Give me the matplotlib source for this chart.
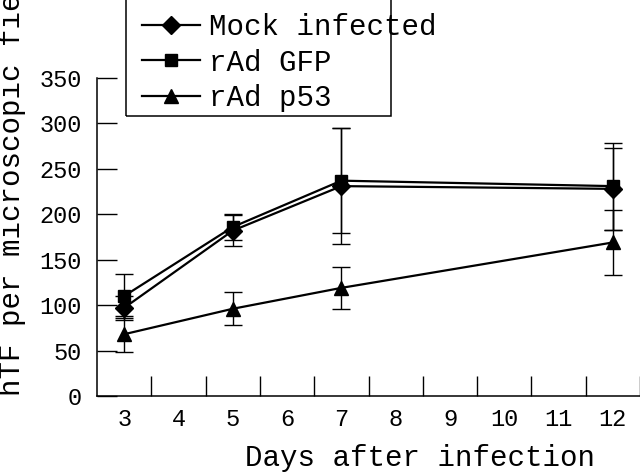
import matplotlib
matplotlib.use('Agg')
import matplotlib.pyplot as plt
from matplotlib.lines import Line2D
from matplotlib.patches import Rectangle

# Datos
dias = ['3', '4', '5', '6', '7', '8', '9', '10', '11', '12']
dias_medidos = ['3', '5', '7', '12']

mock = [97, 182, 231, 228]
mock_err = [13, 17, 64, 45]
gfp = [110, 186, 237, 231]
gfp_err = [24, 14, 58, 48]
p53 = [68, 96, 119, 169]
p53_err = [20, 18, 23, 36]

yticks = [0, 50, 100, 150, 200, 250, 300, 350]

fuente = 'Liberation Mono'

fig = plt.figure(figsize=(6.4, 4.72), dpi=100)
ax = fig.add_axes([97 / 640, 1 - 396 / 472, (640 - 97) / 640, (396 - 78) / 472])

xs = [dias.index(d) for d in dias_medidos]

series = [
    (mock, mock_err, 'D', 9, 'Mock infected'),
    (gfp, gfp_err, 's', 9, 'rAd GFP'),
    (p53, p53_err, '^', 10, 'rAd p53'),
]
handles = []
for vals, errs, mk, ms, lab in series:
    ax.errorbar(xs, vals, yerr=errs, color='black', marker=mk, markersize=ms,
                linewidth=1.6, elinewidth=1.0, capsize=6.5, capthick=1.0,
                clip_on=False)
    handles.append(Line2D([], [], color='black', marker=mk, markersize=ms,
                          linewidth=1.6, label=lab))

ax.set_xlim(-0.5, 9.5)
ax.set_ylim(0, 350)

for s in ['top', 'right']:
    ax.spines[s].set_visible(False)
for s in ['left', 'bottom']:
    ax.spines[s].set_linewidth(1.1)

ax.set_xticks(range(len(dias)))
ax.set_xticklabels(dias, fontfamily=fuente, fontsize=17)
ax.set_xticks([i + 0.5 for i in range(len(dias))], minor=True)
ax.tick_params(axis='x', which='major', length=0, pad=9)
ax.tick_params(axis='x', which='minor', direction='in', length=14.4, width=1.0)

ax.set_yticks(yticks)
ax.set_yticklabels([str(v) for v in yticks], fontfamily=fuente, fontsize=17)
ax.tick_params(axis='y', direction='in', length=14.4, width=1.0, pad=11)

fig.text(420 / 640, 1 - 466 / 472, 'Days after infection', ha='center',
         va='baseline', fontfamily=fuente, fontsize=21)
fig.text(12 / 640, 1 - 396 / 472, 'hTF per microscopic fields', rotation=90,
         ha='center', va='bottom', fontfamily=fuente, fontsize=21)

# Leyenda sin marco; el marco se dibuja aparte (sale por arriba de la figura)
leg = ax.legend(handles=handles, loc='lower left',
                bbox_to_anchor=(129 / 640, 1 - 125 / 472),
                bbox_transform=fig.transFigure, prop={'family': fuente, 'size': 21},
                frameon=False, handlelength=2.0, handletextpad=0.3,
                labelspacing=0.25, borderpad=0.45, borderaxespad=0)
fig.patches.append(Rectangle((126 / 640, 1 - 116 / 472), (391 - 126) / 640, 0.4,
                             transform=fig.transFigure, fill=False,
                             edgecolor='black', linewidth=1.1))

plt.savefig('out.png', dpi=100)
